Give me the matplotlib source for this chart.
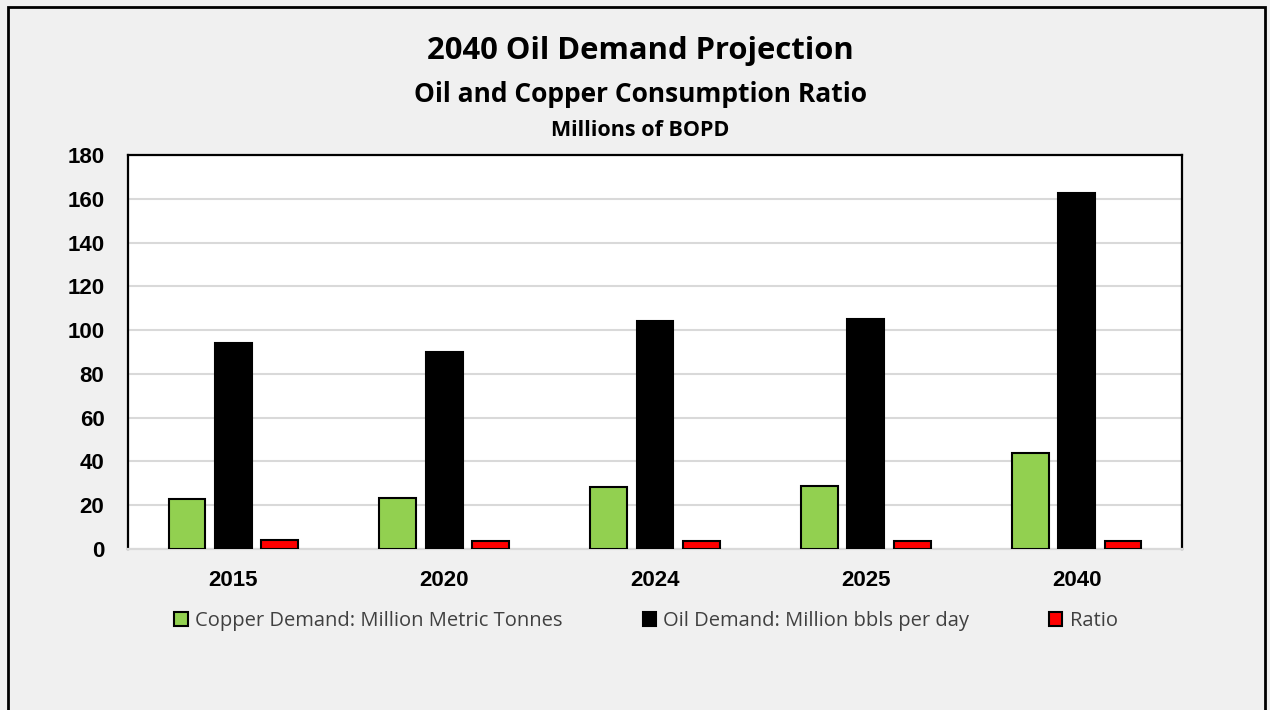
import numpy as np
import matplotlib.pyplot as plt
from matplotlib.patches import Rectangle

# Datos
years = ["2015", "2020", "2024", "2025", "2040"]
copper = [23, 23.5, 28.5, 29, 44]
oil = [94, 90, 104, 105, 162.5]
ratio = [4.1, 3.8, 3.65, 3.6, 3.7]

series_labels = ["Copper Demand: Million Metric Tonnes",
                 "Oil Demand: Million bbls per day",
                 "Ratio"]
colors = ["#92d050", "#000000", "#ff0000"]

bg = "#f0f0f0"
title_font = ["Open Sans", "DejaVu Sans"]
tick_font = ["Liberation Sans", "DejaVu Sans"]

fig = plt.figure(figsize=(12.7, 7.1), dpi=100, facecolor=bg)
ax = fig.add_axes([128 / 1270, 1 - 549 / 710, 1054 / 1270, 394 / 710])
ax.set_facecolor("white")

x = np.arange(len(years))
width = 0.175
offset = 0.22
for i, (vals, lab, col) in enumerate(zip([copper, oil, ratio], series_labels, colors)):
    ax.bar(x + (i - 1) * offset, vals, width, color=col, edgecolor="black",
           linewidth=1.5, label=lab, zorder=3)

ax.set_xlim(-0.5, len(years) - 0.5)
ax.set_ylim(0, 180)
ax.set_yticks(np.arange(0, 181, 20))
ax.set_xticks(x)
ax.set_xticklabels(years)
ax.grid(axis="y", color="#d9d9d9", linewidth=1.5, zorder=0)
ax.tick_params(axis="both", length=0, labelsize=16)
ax.tick_params(axis="y", pad=17)
ax.tick_params(axis="x", pad=15)
for lbl in ax.get_xticklabels() + ax.get_yticklabels():
    lbl.set_fontweight("bold")
    lbl.set_family(tick_font)
for side in ["left", "top", "right"]:
    ax.spines[side].set_color("black")
    ax.spines[side].set_linewidth(1.6)
ax.spines["bottom"].set_color("#d9d9d9")
ax.spines["bottom"].set_linewidth(1.6)

# Títulos
fig.text(640 / 1270, 1 - 51 / 710, "2040 Oil Demand Projection", ha="center", va="center",
         fontsize=22.3, fontweight="bold", family=title_font)
fig.text(640 / 1270, 1 - 94 / 710, "Oil and Copper Consumption Ratio", ha="center", va="center",
         fontsize=19, fontweight="bold", family=title_font)
fig.text(640 / 1270, 1 - 130 / 710, "Millions of BOPD", ha="center", va="center",
         fontsize=15.5, fontweight="bold", family=title_font)

# Leyenda
leg = fig.legend(loc="center", bbox_to_anchor=(646 / 1270, 1 - 621 / 710), ncol=3,
                 frameon=False, prop={"family": title_font, "size": 14.5},
                 handlelength=0.65, handleheight=0.75, handletextpad=0.35, columnspacing=4.0)
for t in leg.get_texts():
    t.set_color("#404040")

# Marco exterior
fig.patches.append(Rectangle((8 / 1270, -0.05), 1257 / 1270, 1.05 - 7 / 710,
                             transform=fig.transFigure, fill=False,
                             edgecolor="black", linewidth=2))

fig.savefig("out.png", dpi=100, facecolor=bg)
